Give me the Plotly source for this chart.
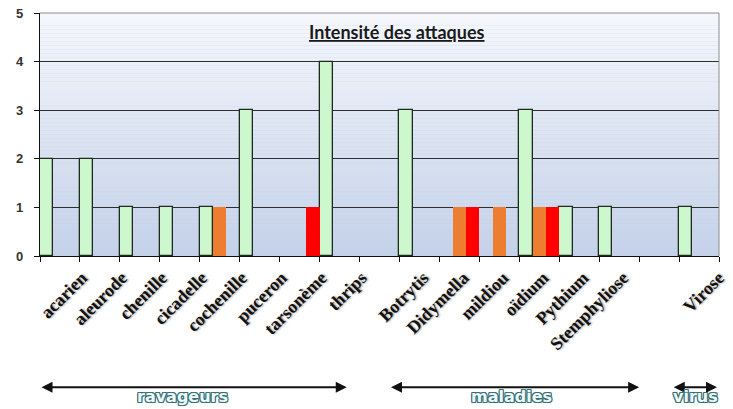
import plotly.graph_objects as go

# ---------------- data ----------------
categories = ["acarien", "aleurode", "chenille", "cicadelle", "cochenille", "puceron",
              "tarsonème", "thrips", "", "Botrytis", "Didymella", "mildiou", "oïdium",
              "Pythium", "Stemphyliose", "", "Virose"]
groups = ["ravageurs"] * 8 + [""] + ["maladies"] * 6 + [""] + ["virus"]
green_values = [2, 2, 1, 1, 1, 3, 0, 4, 0, 3, 0, 0, 3, 1, 1, 0, 1]
orange_values = [0, 0, 0, 0, 1, 0, 0, 0, 0, 0, 1, 1, 1, 0, 0, 0, 0]
red_values = [0, 0, 0, 0, 0, 0, 1, 0, 0, 0, 1, 0, 1, 0, 0, 0, 0]
y_ticks = [0, 1, 2, 3, 4, 5]
group_names = ["ravageurs", "maladies", "virus"]
title_text = "Intensité des attaques"

# ---------------- layout / style ----------------
label_offset = {"ravageurs": 1.05, "maladies": 0.6, "virus": 0.995}
arrow_span = {"ravageurs": (0.0, 7.68), "maladies": (8.75, 15.0), "virus": (15.83, 16.95)}
text_center = {"ravageurs": 3.58, "maladies": 11.8, "virus": 16.42}
GREEN = "#cdf7cd"
ORANGE = "#ed7d31"
RED = "#ff0000"

n = len(categories)
xc = [i + 0.5 for i in range(n)]


def nz(vals):
    return [v if v else None for v in vals]


fig = go.Figure()
fig.add_trace(go.Bar(x=xc, y=nz(green_values), marker=dict(color=GREEN, line=dict(color="#1e2a1e", width=1.3)),
                     name="vert"))
fig.add_trace(go.Bar(x=xc, y=nz(orange_values), marker=dict(color=ORANGE, line=dict(width=0)), name="orange"))
fig.add_trace(go.Bar(x=xc, y=nz(red_values), marker=dict(color=RED, line=dict(width=0)), name="rouge"))

# label tick positions
tickvals, ticktext = [], []
for i, (c, g) in enumerate(zip(categories, groups)):
    if c:
        tickvals.append(i + label_offset[g])
        ticktext.append(c)

# gradient background
shapes = []
N = 60
top = (245, 247, 252)
bot = (196, 209, 233)
for k in range(N):
    t = (k + 0.5) / N
    col = tuple(round(bot[j] + (top[j] - bot[j]) * t) for j in range(3))
    shapes.append(dict(type="rect", xref="paper", yref="paper", x0=0, x1=1, y0=k / N, y1=(k + 1) / N,
                       fillcolor="rgb(%d,%d,%d)" % col, line=dict(width=0), layer="below"))
# top / right border
shapes.append(dict(type="line", xref="paper", yref="paper", x0=0, x1=1, y0=1, y1=1,
                   line=dict(color="#8c8c8c", width=1), layer="above"))
shapes.append(dict(type="line", xref="paper", yref="paper", x0=1, x1=1, y0=0, y1=1,
                   line=dict(color="#8c8c8c", width=1), layer="above"))

annotations = [dict(text=title_text, xref="paper", yref="paper", x=0.526, y=0.922, showarrow=False,
                    xanchor="center", yanchor="middle",
                    font=dict(family="Lato, Open Sans, sans-serif", size=18, color="#1a1a1a", weight="bold",
                              lineposition="under"))]

outline = "#3a7077"
sh = ", ".join("%dpx %dpx 0 %s" % (dx, dy, outline) for dx, dy in
               [(1, 0), (-1, 0), (0, 1), (0, -1), (1, 1), (-1, -1), (1, -1), (-1, 1)])
for g in group_names:
    a, b = arrow_span[g]
    annotations.append(dict(x=b, y=-0.54, xref="x", yref="paper", ax=a, ay=0, axref="x", ayref="pixel",
                            text="", showarrow=True, arrowhead=2, arrowside="end+start", arrowsize=1.1,
                            arrowwidth=2, arrowcolor="#111111", standoff=0, startstandoff=0))
    annotations.append(dict(x=text_center[g], y=-0.578, xref="x", yref="paper",
                            xanchor="center", yanchor="middle",
                            text=g, showarrow=False,
                            font=dict(family="DejaVu Sans, sans-serif", size=16, color="#eefafa", weight="bold",
                                      shadow=sh)))

fig.update_layout(
    width=733, height=409,
    margin=dict(l=40, r=14, t=12.5, b=153, autoexpand=False),
    paper_bgcolor="white",
    plot_bgcolor="rgb(196,209,233)",
    barmode="group", bargap=0, bargroupgap=0,
    showlegend=False,
    shapes=shapes,
    annotations=annotations,
    xaxis=dict(range=[0, n], tickmode="array", tickvals=tickvals, ticktext=ticktext, tickangle=-45,
               ticks="", showgrid=False, zeroline=False, showline=True, linecolor="#111111", linewidth=1.3,
               ticklabelstandoff=3, automargin=False,
               tickfont=dict(family="Liberation Serif, Times New Roman, serif", size=18, color="#111111",
                             weight="bold", shadow="1px 1px 2px #9a9a9a"),
               minor=dict(tickmode="linear", tick0=0, dtick=1, ticks="outside", ticklen=5,
                          tickcolor="#111111", tickwidth=1.3, showgrid=False),
               fixedrange=True),
    yaxis=dict(range=[0, 5], tickmode="array", tickvals=y_ticks, ticks="outside", ticklen=5,
               tickcolor="#111111", showgrid=True, gridcolor="#2e2e2e", gridwidth=1.2, zeroline=False,
               showline=True, linecolor="#111111", linewidth=1.3, ticklabelstandoff=8, automargin=False,
               tickfont=dict(family="Liberation Sans, Arial, sans-serif", size=13, color="#333333",
                             weight="bold"),
               fixedrange=True),
)

fig.write_html("out.html")
